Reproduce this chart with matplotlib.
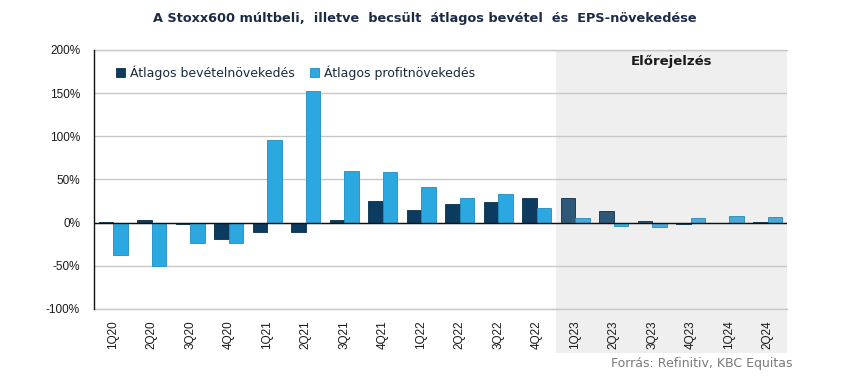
import numpy as np
import matplotlib.pyplot as plt
from matplotlib.patches import Rectangle
import matplotlib.transforms as mtransforms

quarters = ['1Q20', '2Q20', '3Q20', '4Q20', '1Q21', '2Q21', '3Q21', '4Q21', '1Q22',
            '2Q22', '3Q22', '4Q22', '1Q23', '2Q23', '3Q23', '4Q23', '1Q24', '2Q24']
revenue_growth = [1, 2.5, -2, -18.5, -10.5, -10.5, 3.5, 25.5, 15, 22, 23.5, 28,
                  28, 13, 2, -2, 0, 1]
profit_growth = [-37.5, -50, -23.5, -23.5, 96, 153, 60, 59, 41.5, 29, 33.5, 17.5,
                 5, -4, -5, 5, 8, 6]
first_forecast = 12  # index of 1Q23

dark = '#0b3b5e'
light = '#2aa8df'
dark_fc = '#2f5878'
light_fc = '#4aa9d9'

fig = plt.figure(figsize=(8.5, 3.77), dpi=100)
ax = fig.add_axes([0.1106, 0.1804, 0.8154, 0.687])

x = np.arange(len(quarters))
w = 0.38
c_dark = [dark if i < first_forecast else dark_fc for i in x]
c_light = [light if i < first_forecast else light_fc for i in x]

ax.bar(x - w / 2, revenue_growth, w, color=c_dark, edgecolor='#0a2f4a', linewidth=0.6,
       zorder=3, label='Átlagos bevételnövekedés')
ax.bar(x + w / 2, profit_growth, w, color=c_light, edgecolor='#1e8cc0', linewidth=0.6,
       zorder=3, label='Átlagos profitnövekedés')

# forecast shading, extends below the axis over the tick labels
trans = mtransforms.blended_transform_factory(ax.transData, ax.transAxes)
ax.add_patch(Rectangle((first_forecast - 0.5, -0.17), len(quarters) - first_forecast, 1.17,
                       transform=trans, facecolor='#efefef', edgecolor='none',
                       zorder=0, clip_on=False))
ax.text(14.5, 0.955, 'Előrejelzés', transform=trans, ha='center', va='center',
        fontsize=9.5, fontweight='bold', color='#1a1a1a', zorder=4)

ax.set_xlim(-0.5, len(quarters) - 0.5)
ax.set_ylim(-100, 200)
ax.set_yticks(np.arange(-100, 201, 50))
ax.set_yticklabels([f'{v}%' for v in range(-100, 201, 50)], fontsize=8.5,
                   color='#1a1a1a', family='Liberation Sans')
ax.set_xticks(x)
ax.set_xticklabels(quarters, rotation=90, fontsize=8.5, color='#1a1a1a',
                   family='Liberation Sans')
ax.tick_params(axis='both', length=0, pad=8)
ax.tick_params(axis='y', pad=10)

ax.grid(axis='y', color='#c8c8c8', linewidth=1, zorder=1)
ax.axhline(-100, color='#c8c8c8', linewidth=1, zorder=1, clip_on=False)
ax.axhline(200, color='#c8c8c8', linewidth=1, zorder=1, clip_on=False)
ax.set_axisbelow(True)
ax.axhline(0, color='#111111', linewidth=1, zorder=4)
for s in ['top', 'right', 'bottom']:
    ax.spines[s].set_visible(False)
ax.spines['left'].set_color('#111111')
ax.spines['left'].set_linewidth(1)
ax.spines['left'].set_zorder(5)
ax.set_facecolor('none')

leg = ax.legend(loc='upper left', bbox_to_anchor=(0.025, 0.96), ncol=2, frameon=False,
                fontsize=9, handlelength=0.7, handleheight=0.7, handletextpad=0.4,
                columnspacing=1.2, borderaxespad=0)
for t in leg.get_texts():
    t.set_color('#1a2a3a')

fig.text(0.5, 0.95, 'A Stoxx600 múltbeli,  illetve  becsült  átlagos bevétel  és  EPS-növekedése',
         ha='center', va='center', fontsize=9.3, fontweight='bold', color='#1c2b45')
fig.text(0.932, 0.035, 'Forrás: Refinitiv, KBC Equitas', ha='right', va='center',
         fontsize=9, color='#7a7a7a')

fig.savefig('out.png', dpi=100)
